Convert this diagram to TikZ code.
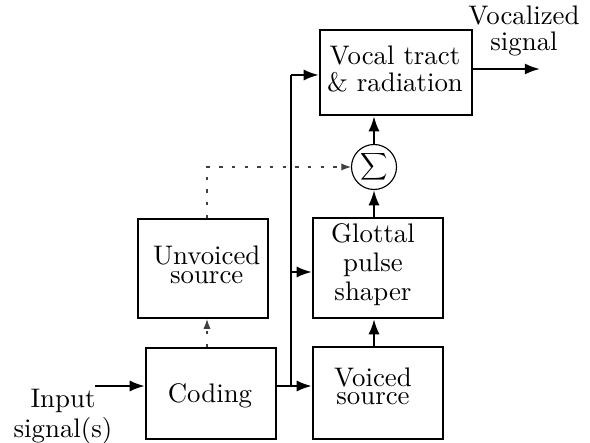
\documentclass[tikz,border=0pt]{standalone}
\usepackage{graphicx}
\usetikzlibrary{arrows.meta,calc}
\def\U{0.395pt}
\tikzset{
  box/.style={draw, line width=0.9pt, rectangle, inner sep=0pt},
  lbl/.style={align=center, inner sep=0pt, font=\fontsize{10.6pt}{#1}\selectfont},
  lbl/.default=12pt,
  arr/.style={line width=0.9pt, -{Latex[length=6pt,width=4.4pt]}},
  dotarr/.style={line width=0.4pt, draw=black!75, dash pattern=on 1.3pt off 3.7pt, -{Latex[length=3.8pt,width=2.8pt]}},
}
\begin{document}
\begin{tikzpicture}[x=0.395pt, y=-0.395pt]
\useasboundingbox (0,0) rectangle (590,443);
% boxes
\node[box, minimum width=152*\U, minimum height=85*\U] (vocal) at (396,72.5) {};
\node[box, minimum width=130*\U, minimum height=100*\U] (glottal) at (378,268) {};
\node[box, minimum width=130*\U, minimum height=99*\U] (unvoiced) at (203,268.5) {};
\node[box, minimum width=130*\U, minimum height=91*\U] (coding) at (211,393.5) {};
\node[box, minimum width=130*\U, minimum height=92*\U] (voiced) at (378,393) {};
\node[draw, circle, line width=0.45pt, minimum size=45*\U, inner sep=0pt] (sum) at (374,167) {};
\node[inner sep=0pt] (sumsym) at (sum.center) {\scalebox{0.75}{$\displaystyle\sum$}};
% labels
\node[lbl=10.3pt] (tvocal) at (395,69) {Vocal tract\\\& radiation};
\node[lbl=11.45pt] (tglottal) at (373,265) {Glottal\\pulse\\shaper};
\node[lbl=7.4pt] (tunvoiced) at (206.7,265) {Unvoiced\\source};
\node[lbl] (tcoding) at (210,395.6) {Coding};
\node[lbl=7.4pt] (tvoiced) at (373,386.3) {Voiced\\source};
\node[lbl=10.3pt] (tout) at (524,30.6) {Vocalized\\signal};
\node[lbl=11.85pt] (tin) at (63,416.5) {Input\\signal(s)};
% coordinates
\coordinate (in) at (95,386);
\coordinate (j1) at (291,386);
\coordinate (j2) at (291,75);
\coordinate (j3) at (291,272);
\coordinate (out) at (540,69);
\coordinate (d1) at (207,167);
% connectors
\draw[arr] (in) -- (coding.west |- in);
\draw[arr] (coding.east |- j1) -- (voiced.west |- j1);
\draw[line width=0.9pt] (j1) -- (j2);
\draw[arr] (j2) -- (vocal.west |- j2);
\draw[arr] (j3) -- (glottal.west |- j3);
\draw[arr] (sum |- voiced.north) -- (sum |- glottal.south);
\draw[arr] (sum |- glottal.north) -- (sum.south);
\draw[arr] (sum.north) -- (sum |- vocal.south);
\draw[arr] (vocal.east |- out) -- (out);
\draw[dotarr] (coding.north -| d1) -- (unvoiced.south -| d1);
\draw[dotarr] (unvoiced.north -| d1) |- (sum.west);
\end{tikzpicture}
\end{document}
